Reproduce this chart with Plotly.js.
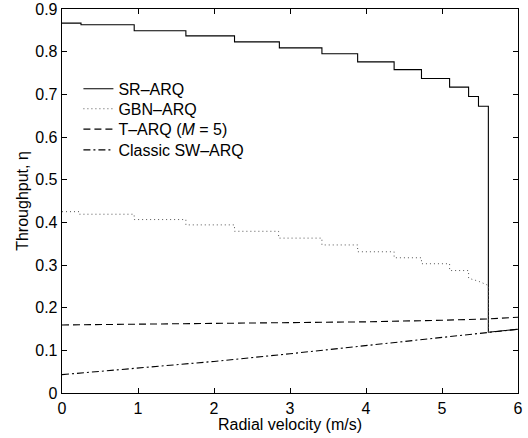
<!DOCTYPE html>
<html>
<head>
<meta charset="utf-8">
<script src="https://cdn.plot.ly/plotly-3.0.1.min.js"></script>
<style>html,body{margin:0;padding:0;background:#fff;}#chart{width:528px;height:438px;}</style>
</head>
<body>
<div id="chart"></div>
<script>
// SR-ARQ: step breakpoints (value holds from x until next x)
const srStepX = [0, 0.25, 0.95, 1.63, 2.27, 2.86, 3.42, 3.89, 4.37, 4.73, 5.10, 5.35, 5.48, 5.61];
const srStepY = [0.867, 0.863, 0.849, 0.837, 0.823, 0.809, 0.795, 0.776, 0.758, 0.737, 0.717, 0.695, 0.672, 0.1424];
const srTailX = [6];
const srTailY = [0.1494];

// GBN-ARQ: step breakpoints
const gbnStepX = [0, 0.23, 0.95, 1.63, 2.27, 2.85, 3.42, 3.89, 4.37, 4.73, 5.10, 5.35];
const gbnStepY = [0.425, 0.419, 0.4065, 0.394, 0.379, 0.363, 0.347, 0.331, 0.317, 0.303, 0.287, 0.269];
const gbnTailX = [5.48, 5.61, 5.61];
const gbnTailY = [0.262, 0.252, 0.1424];

// T-ARQ (M = 5)
const tX = [0, 1, 2, 3, 4, 5, 5.61, 6];
const tY = [0.1595, 0.161, 0.1626, 0.1645, 0.1668, 0.1705, 0.1736, 0.1776];

// Classic SW-ARQ
const swX = [0, 1, 2, 3, 4, 5, 5.61, 6];
const swY = [0.043, 0.058, 0.074, 0.092, 0.111, 0.131, 0.1424, 0.1494];

const names = ['SR–ARQ', 'GBN–ARQ', 'T–ARQ (<i>M</i> = 5)', 'Classic SW–ARQ'];
const xTicks = [0, 1, 2, 3, 4, 5, 6];
const yTicks = [0, 0.1, 0.2, 0.3, 0.4, 0.5, 0.6, 0.7, 0.8, 0.9];

function stepPath(sx, sy, tx, ty) {
  const X = [], Y = [];
  for (let i = 0; i < sx.length; i++) {
    if (i > 0) { X.push(sx[i]); Y.push(sy[i - 1]); }
    X.push(sx[i]); Y.push(sy[i]);
  }
  for (let i = 0; i < tx.length; i++) { X.push(tx[i]); Y.push(ty[i]); }
  return {X, Y};
}
const sr = stepPath(srStepX, srStepY, srTailX, srTailY);
const gb = stepPath(gbnStepX, gbnStepY, gbnTailX, gbnTailY);

const font = {family: 'Liberation Sans, Arial, Helvetica, sans-serif', size: 16, color: '#000'};

const traces = [
  {x: sr.X, y: sr.Y, name: names[0], mode: 'lines', legend: 'legend', line: {color: '#000', width: 1.1, dash: 'solid'}},
  {x: gb.X, y: gb.Y, name: names[1], mode: 'lines', legend: 'legend2', line: {color: '#555', width: 1, dash: '1px,3px'}},
  {x: tX, y: tY, name: names[2], mode: 'lines', legend: 'legend3', line: {color: '#000', width: 1.1, dash: '7px,4px'}},
  {x: swX, y: swY, name: names[3], mode: 'lines', legend: 'legend4', line: {color: '#000', width: 1.1, dash: '7px,3px,2px,3px'}}
];

const axisCommon = {
  showgrid: false, zeroline: false, showline: true, linecolor: '#000', linewidth: 1.3,
  mirror: 'allticks', ticks: 'inside', ticklen: 5, tickcolor: '#000', tickwidth: 1,
  tickfont: font, automargin: false
};

const legendRowsY = [0.792, 0.740, 0.687, 0.633];
function legendAt(y) {
  return {x: 0.036, y: y, xanchor: 'left', yanchor: 'middle', bgcolor: 'rgba(0,0,0,0)', borderwidth: 0, font: font};
}

const layout = {
  width: 528, height: 438,
  margin: {l: 62, r: 10, t: 9, b: 45},
  paper_bgcolor: '#fff', plot_bgcolor: '#fff',
  font: font,
  showlegend: true,
  legend: legendAt(legendRowsY[0]),
  legend2: legendAt(legendRowsY[1]),
  legend3: legendAt(legendRowsY[2]),
  legend4: legendAt(legendRowsY[3]),
  xaxis: Object.assign({}, axisCommon, {range: [0, 6], tickvals: xTicks, ticktext: xTicks.map(String),
    title: {text: 'Radial velocity (m/s)', font: font, standoff: 3}}),
  yaxis: Object.assign({}, axisCommon, {range: [0, 0.9], tickvals: yTicks, ticktext: yTicks.map(v => v === 0 ? '0' : v.toFixed(1)),
    title: {text: 'Throughput, η', font: font, standoff: 2}})
};

Plotly.newPlot('chart', traces, layout, {staticPlot: true, displayModeBar: false});
</script>
</body>
</html>
